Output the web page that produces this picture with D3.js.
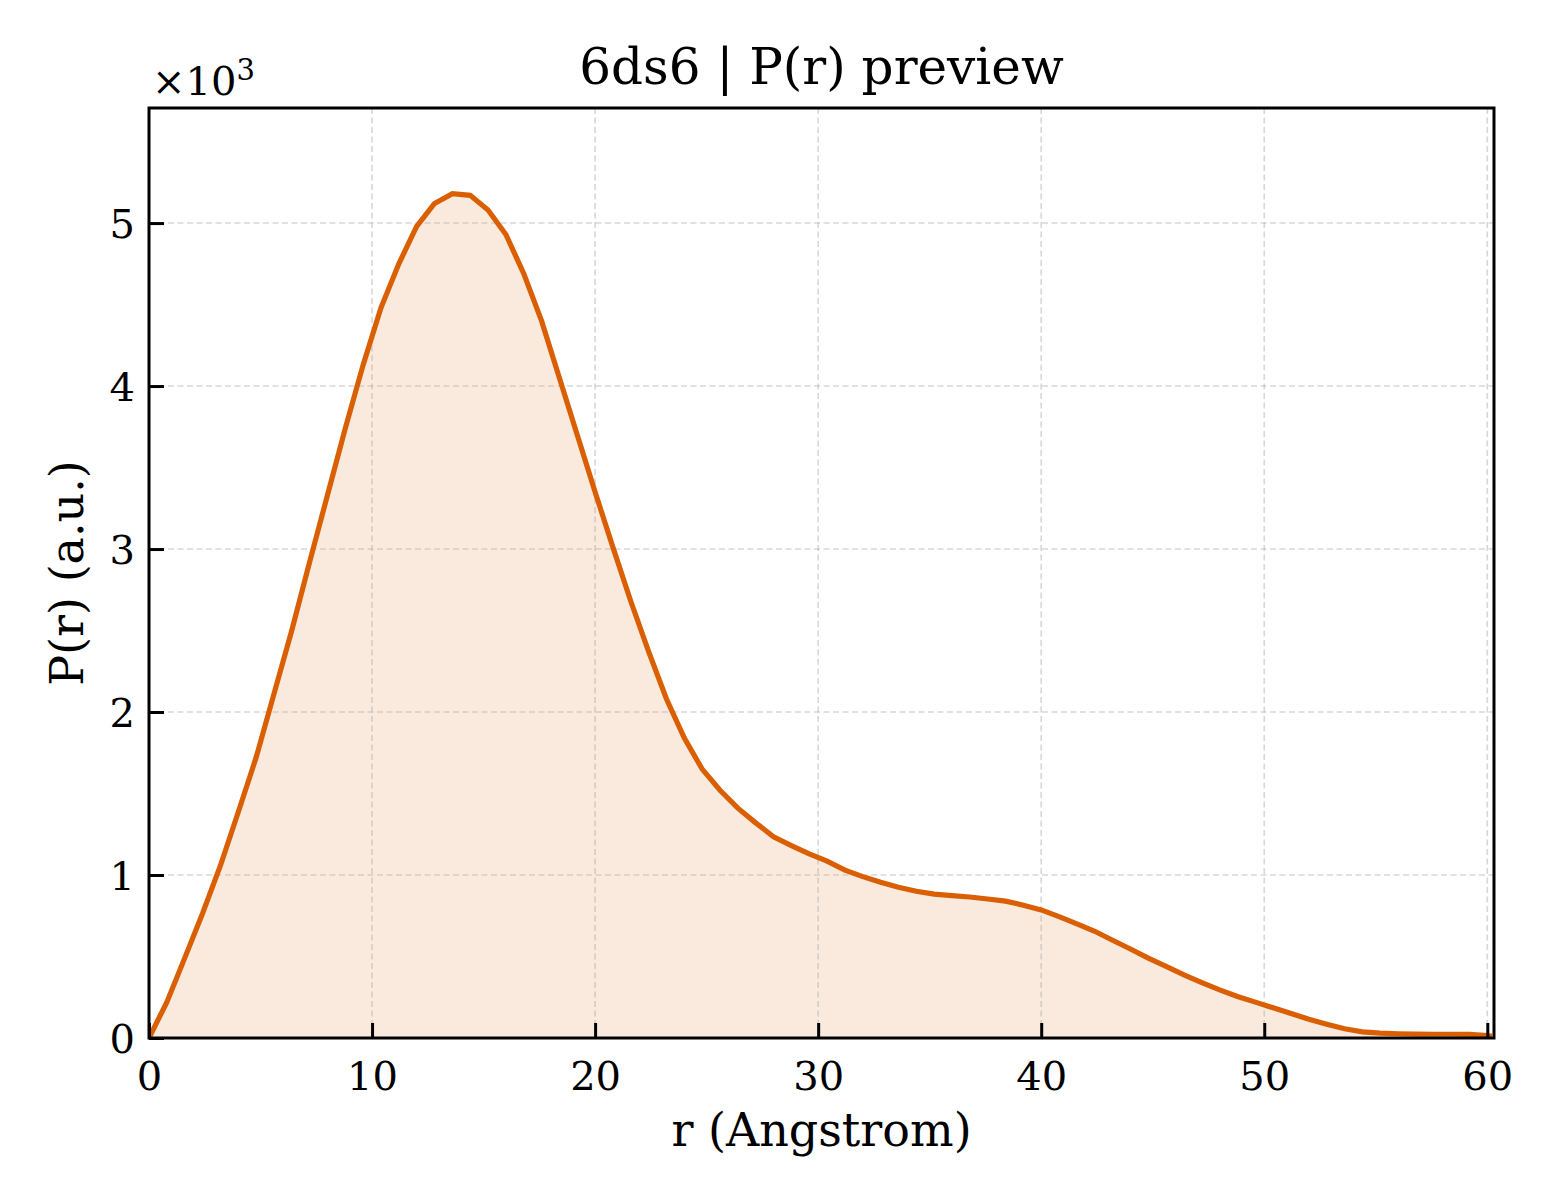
<!DOCTYPE html>
<html>
<head>
<meta charset="utf-8">
<script src="https://cdn.jsdelivr.net/npm/d3@7"></script>
<style>
  body { margin: 0; background: #fff; }
  svg text { font-family: "DejaVu Serif", serif; fill: #000; }
</style>
</head>
<body>
<svg id="chart" width="1560" height="1200"></svg>
<script>
// P(r) curve, r in Angstrom, values in units of 10^3
var rValues = [0, 0.8, 1.6, 2.4, 3.2, 4.0, 4.8, 5.6, 6.4, 7.2, 8.0, 8.8, 9.6, 10.4, 11.2, 12.0,
    12.8, 13.6, 14.4, 15.2, 16.0, 16.8, 17.6, 18.4, 19.2, 20.0, 20.8, 21.6, 22.4, 23.2, 24.0,
    24.8, 25.6, 26.4, 27.2, 28.0, 28.8, 29.6, 30.4, 31.2, 32.0, 32.8, 33.6, 34.4, 35.2, 36.0,
    36.8, 37.6, 38.4, 39.2, 40.0, 40.8, 41.6, 42.4, 43.2, 44.0, 44.8, 45.6, 46.4, 47.2, 48.0,
    48.8, 49.6, 50.4, 51.2, 52.0, 52.8, 53.6, 54.4, 55.2, 56.0, 56.8, 57.6, 58.4, 59.2, 60.0, 60.2];
var pValues = [0, 0.22, 0.49, 0.764, 1.057, 1.385, 1.72, 2.11, 2.50, 2.92, 3.33, 3.74, 4.13, 4.48, 4.75, 4.98,
    5.12, 5.18, 5.17, 5.08, 4.93, 4.69, 4.40, 4.05, 3.70, 3.35, 3.01, 2.68, 2.37, 2.08, 1.84,
    1.65, 1.52, 1.41, 1.32, 1.235, 1.18, 1.13, 1.085, 1.03, 0.99, 0.955, 0.925, 0.90, 0.883, 0.874,
    0.865, 0.853, 0.84, 0.815, 0.786, 0.745, 0.70, 0.655, 0.60, 0.546, 0.49, 0.44, 0.387, 0.34, 0.295,
    0.255, 0.22, 0.185, 0.15, 0.115, 0.085, 0.057, 0.038, 0.03, 0.026, 0.024, 0.023, 0.023, 0.022, 0.015, 0.01];
var xTicks = [0, 10, 20, 30, 40, 50, 60];
var yTicks = [0, 1, 2, 3, 4, 5];

var titleText = "6ds6 | P(r) preview";
var xLabel = "r (Angstrom)";
var yLabel = "P(r) (a.u.)";
var lineColor = "#d95f02";

var margin = {top: 108, right: 66, bottom: 162, left: 149};
var width = 1560 - margin.left - margin.right;
var height = 1200 - margin.top - margin.bottom;

var svg = d3.select("#chart");
var g = svg.append("g")
    .attr("transform", "translate(" + margin.left + "," + margin.top + ")");

var x = d3.scaleLinear().domain([0, 60.3]).range([0, width]);
var y = d3.scaleLinear().domain([0, 5.706]).range([height, 0]);

var data = rValues.map(function(r, i){ return {r: r, p: pValues[i]}; });

g.append("defs").append("clipPath").attr("id", "clip")
    .append("rect").attr("width", width).attr("height", height);

// fill under the curve
var area = d3.area()
    .x(function(d){ return x(d.r); })
    .y0(y(0))
    .y1(function(d){ return y(d.p); });

g.append("path")
    .datum(data)
    .attr("d", area)
    .attr("fill", lineColor)
    .attr("fill-opacity", 0.13)
    .attr("clip-path", "url(#clip)");

// dashed grid
var grid = g.append("g").attr("class", "grid");
grid.selectAll("line.gx")
    .data(xTicks)
    .enter().append("line")
    .attr("x1", function(d){ return x(d); })
    .attr("x2", function(d){ return x(d); })
    .attr("y1", 0).attr("y2", height);
grid.selectAll("line.gy")
    .data(yTicks)
    .enter().append("line")
    .attr("y1", function(d){ return y(d); })
    .attr("y2", function(d){ return y(d); })
    .attr("x1", 0).attr("x2", width);
grid.selectAll("line")
    .attr("stroke", "#b0b0b0")
    .attr("stroke-opacity", 0.5)
    .attr("stroke-width", 1.6)
    .attr("stroke-dasharray", "6,3.5");

// the curve
var line = d3.line()
    .x(function(d){ return x(d.r); })
    .y(function(d){ return y(d.p); });

g.append("path")
    .datum(data)
    .attr("d", line)
    .attr("fill", "none")
    .attr("stroke", lineColor)
    .attr("stroke-width", 5.2)
    .attr("stroke-linejoin", "miter")
    .attr("clip-path", "url(#clip)");

// axes with inward ticks
var xAxis = d3.axisBottom(x).tickValues(xTicks).tickSize(-15).tickPadding(24)
    .tickFormat(d3.format("d"));
var yAxis = d3.axisLeft(y).tickValues(yTicks).tickSize(-15).tickPadding(14)
    .tickFormat(d3.format("d"));

var gx = g.append("g").attr("transform", "translate(0," + height + ")").call(xAxis);
var gy = g.append("g").call(yAxis);

[gx, gy].forEach(function(ax){
    ax.select(".domain").remove();
    ax.selectAll(".tick line").attr("stroke", "#000").attr("stroke-width", 3);
    ax.selectAll(".tick text")
        .style("font-family", "DejaVu Serif")
        .style("font-size", "40px")
        .attr("fill", "#000");
});
gx.selectAll(".tick text").attr("dy", "0.71em");
gy.selectAll(".tick text").attr("dy", "0.36em");

// frame
g.append("rect")
    .attr("width", width)
    .attr("height", height)
    .attr("fill", "none")
    .attr("stroke", "#000")
    .attr("stroke-width", 3);

// offset label
var offset = svg.append("text")
    .attr("x", 152)
    .attr("y", 95)
    .style("font-size", "40px");
offset.append("tspan").text("\u00d710");
offset.append("tspan").attr("dy", -15).style("font-size", "29px").text("3");

// title
svg.append("text")
    .attr("x", margin.left + width / 2)
    .attr("y", 84)
    .attr("text-anchor", "middle")
    .style("font-size", "50px")
    .text(titleText);

// axis labels
svg.append("text")
    .attr("x", margin.left + width / 2)
    .attr("y", 1146)
    .attr("text-anchor", "middle")
    .style("font-size", "46px")
    .text(xLabel);

svg.append("text")
    .attr("transform", "translate(83," + (margin.top + height / 2) + ") rotate(-90)")
    .attr("text-anchor", "middle")
    .style("font-size", "46px")
    .text(yLabel);
</script>
</body>
</html>
